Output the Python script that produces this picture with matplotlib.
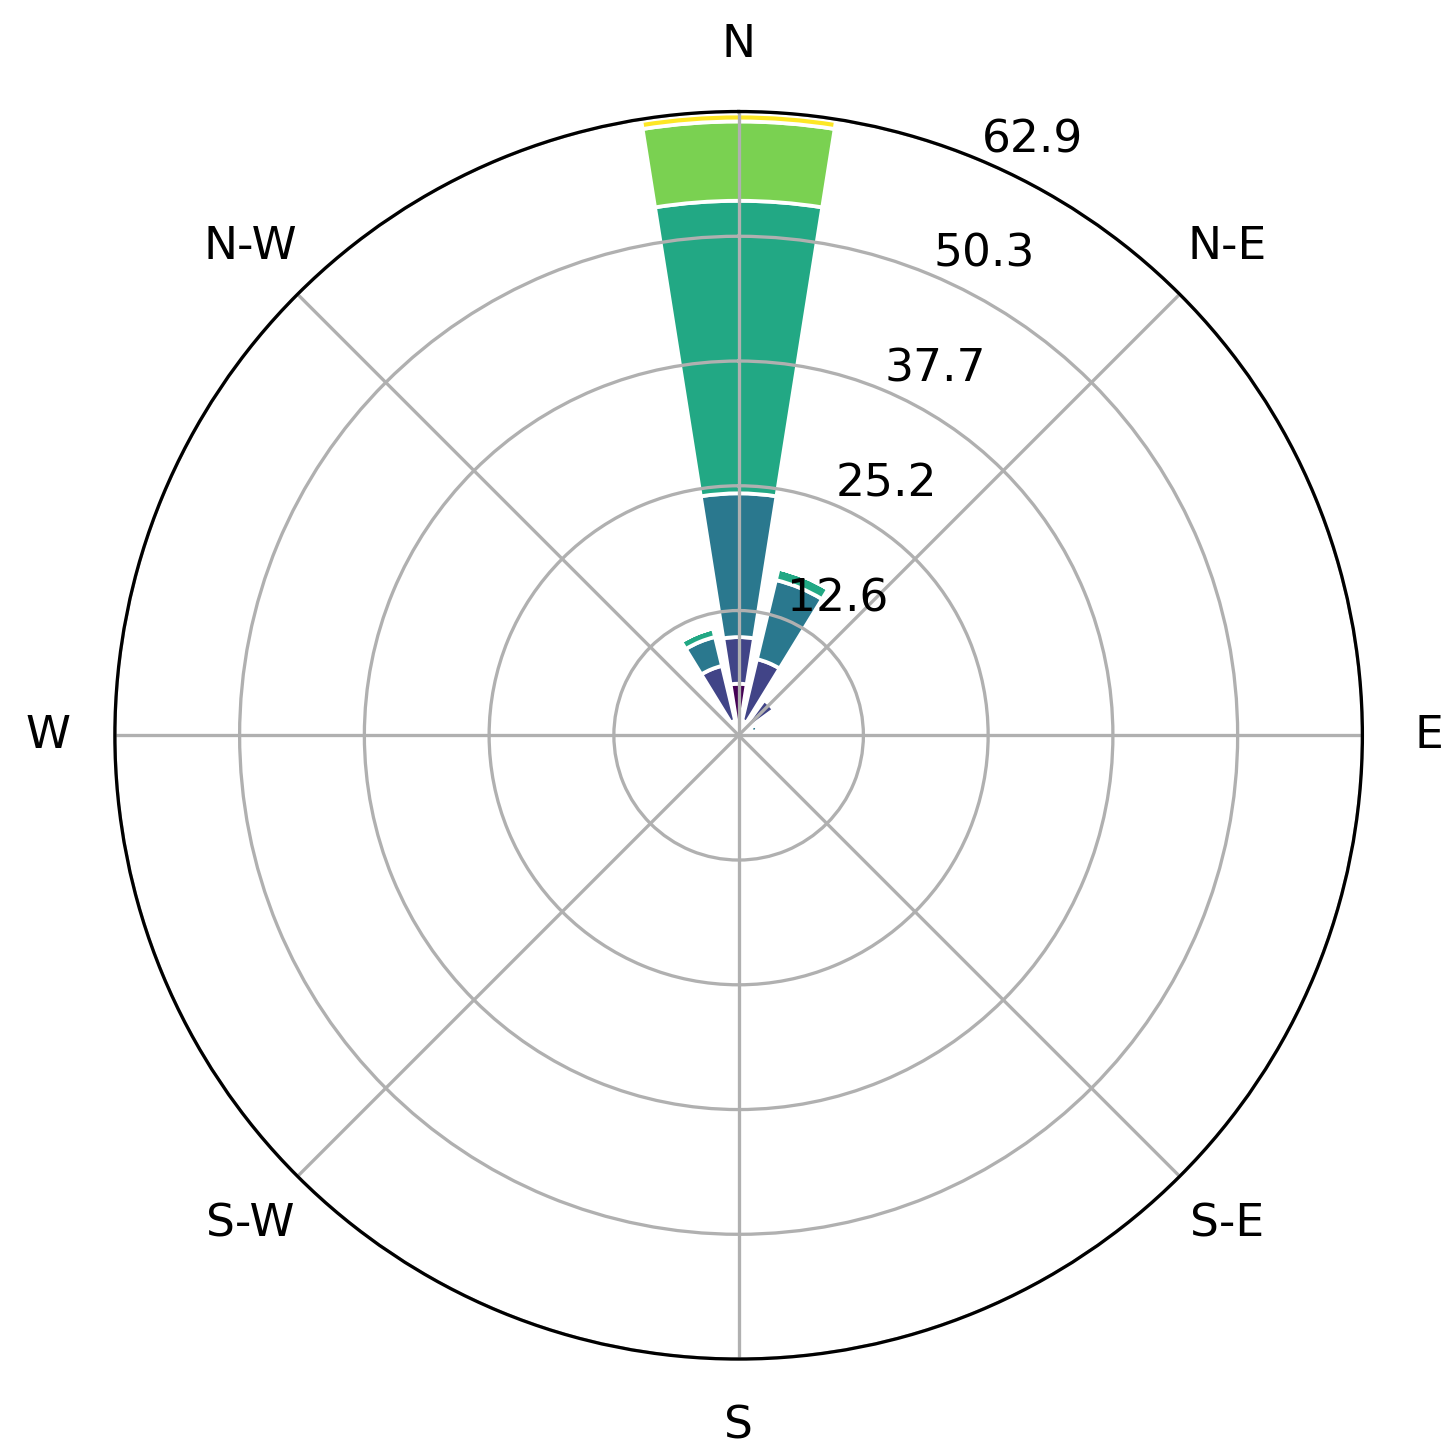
import numpy as np
import matplotlib
matplotlib.use("Agg")
import matplotlib.pyplot as plt

# wind directions (deg, clockwise from N) and frequency per speed bin
DIRECTIONS = [0.0, 22.5, 45.0, 67.5, 337.5]
BIN_N = [5.2, 4.7, 14.5, 29.5, 8.0, 0.8]
BIN_NNE = [1.5, 6.4, 8.2, 1.2, 0.0, 0.0]
BIN_NE = [1.0, 3.4, 0.1, 0.3, 0.0, 0.0]
BIN_ENE = [0.6, 0.8, 0.6, 0.2, 0.0, 0.0]
BIN_NNW = [1.5, 5.7, 3.0, 0.9, 0.0, 0.0]
DIR_LABELS = ["N", "N-E", "E", "S-E", "S", "S-W", "W", "N-W"]
R_MAX = 62.9

freqs = np.array([BIN_N, BIN_NNE, BIN_NE, BIN_ENE, BIN_NNW])
n_bins = freqs.shape[1]
colors = plt.cm.viridis(np.linspace(0, 1, n_bins))
width = 0.8 * 2 * np.pi / 16

fig = plt.figure(figsize=(8, 8), dpi=181.75)
ax = fig.add_axes([0.079, 0.0653, 0.858, 0.858], projection="polar")
ax.set_theta_zero_location("N")
ax.set_theta_direction(-1)

theta = np.radians(DIRECTIONS)
offset = np.zeros(len(DIRECTIONS))
for i in range(n_bins):
    h = freqs[:, i]
    ax.bar(theta, h, width=width, bottom=offset, color=colors[i],
           edgecolor="white", linewidth=1.5, zorder=1)
    offset = offset + h

ax.set_ylim(0, R_MAX)
ticks = np.linspace(0, R_MAX, 6)[1:]
ax.set_yticks(ticks)
ax.set_yticklabels([f"{t:.1f}" for t in ticks], fontsize=18)
ax.set_rlabel_position(23)
ax.set_xticks(np.radians(np.arange(0, 360, 45)))
ax.set_xticklabels(DIR_LABELS, fontsize=18)
ax.grid(True, color="#b0b0b0", linewidth=1.3)
ax.set_axisbelow(False)
for t in ax.get_yticklabels():
    t.set_zorder(5)
ax.spines["polar"].set_linewidth(1.3)
ax.spines["polar"].set_zorder(6)
ax.tick_params(axis="x", pad=16)

fig.savefig("out.png")
